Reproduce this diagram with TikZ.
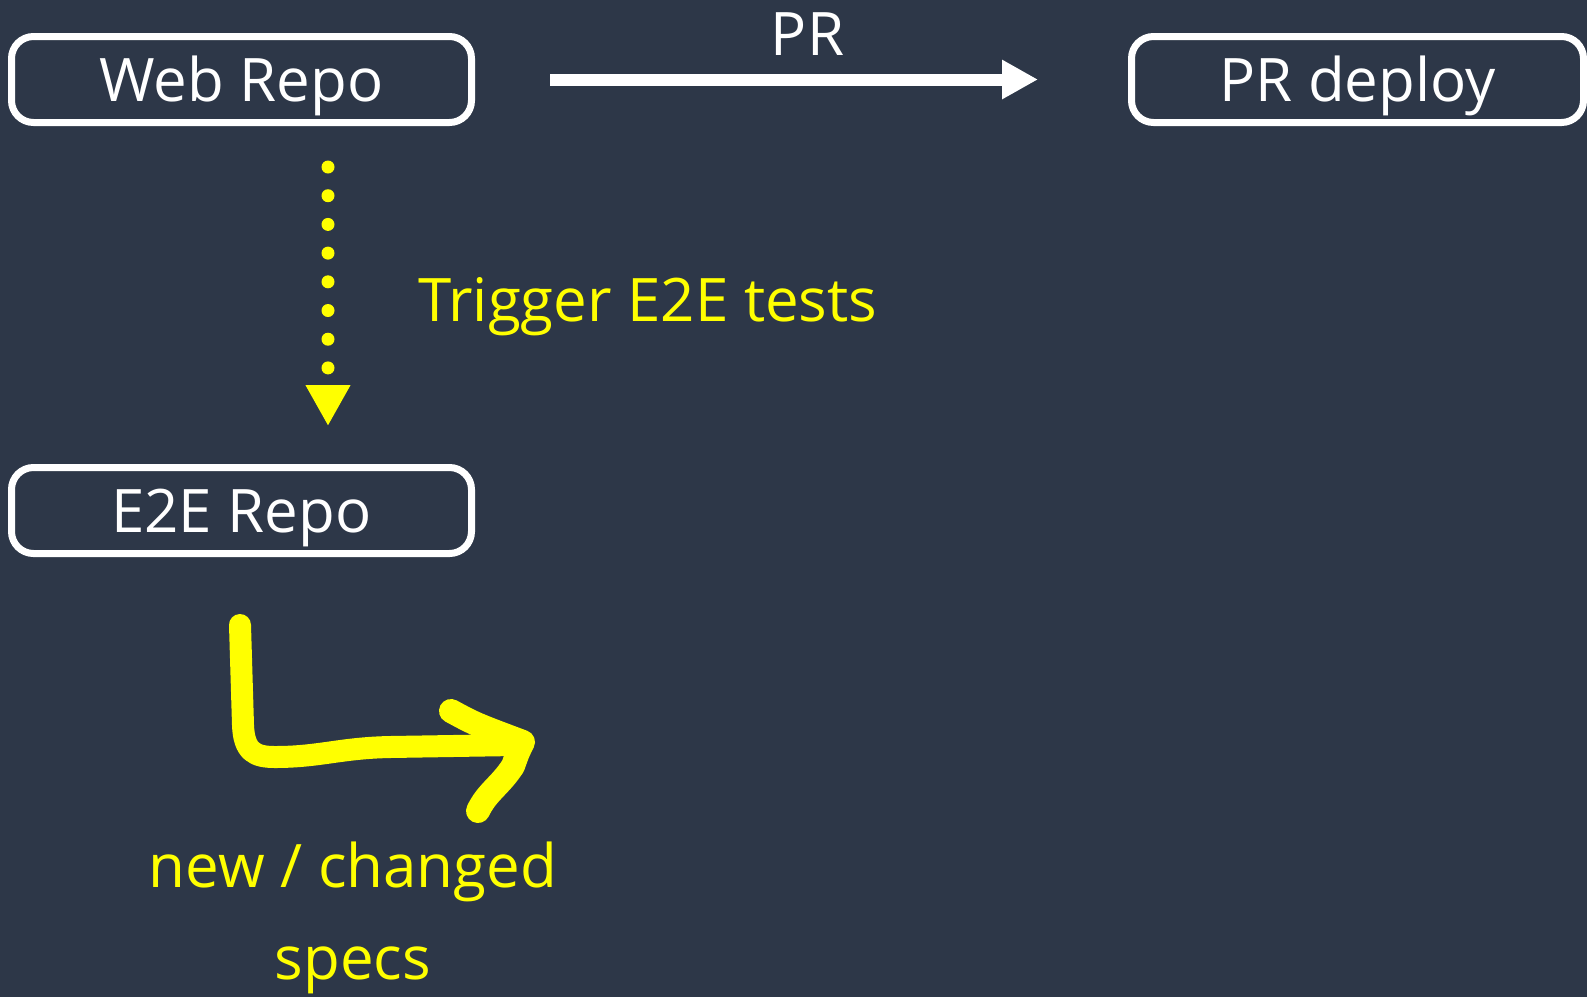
\documentclass[tikz,border=0pt]{standalone}
\usepackage{fontspec}
\setmainfont{Open Sans}
\usetikzlibrary{arrows.meta,positioning,calc}
\definecolor{bgslate}{HTML}{2D3748}
\definecolor{markyellow}{HTML}{FFFF00}

\begin{document}
\begin{tikzpicture}[
    x=1pt, y=-1pt,
    font=\fontsize{60}{92}\selectfont,
    repo/.style={rectangle, draw=white, line width=7pt, rounded corners=22pt, minimum width=460pt, minimum height=86pt, inner sep=0pt, text=white, text height=43pt, text depth=0pt},
    note/.style={text=markyellow, inner sep=0pt},
    dots/.style={markyellow, line width=13pt, line cap=round, dash pattern=on 0pt off 28.7pt, -{Triangle[length=41pt, width=42pt]}},
    marker/.style={markyellow, line width=22pt, line cap=round, line join=round}
]

    % Background
    \fill[bgslate] (0,0) rectangle (1587,997);
    \useasboundingbox (0,0) rectangle (1587,997);

    % Repos
    \node[repo] (web) at (241.5,79.5) {Web Repo};
    \node[repo, minimum width=452pt] (deploy) at (1357.5,79.5) {PR deploy};
    \node[repo] (e2e) at (241.5,510.5) {E2E Repo};

    % PR arrow
    \draw[white, line width=12pt, -{Triangle[length=36pt, width=37pt]}, shorten <=75pt, shorten >=90pt]
        (web.east) -- node[midway, anchor=base, xshift=6pt, yshift=24.5pt, text=white, inner sep=0pt] (pr) {PR} (deploy.west);

    % Trigger (dotted)
    \draw[dots, shorten <=41pt, shorten >=38pt] ([xshift=86.5pt]web.south) -- ([xshift=86.5pt]web.south |- e2e.north);
    \node[note, anchor=base west] (trigger) at (418,321) {Trigger E2E tests};

    % Hand drawn arrow
    \draw[marker] (240,625) -- (243,725) .. controls (244,752) and (255,757) .. (275,757)
        .. controls (320,757) and (340,748) .. (390,747) -- (515,745);
    \draw[marker, line width=24pt] (451,711) .. controls (475,724) .. (523,742)
        .. controls (518,752) .. (513,766) .. controls (500,786) and (487,792) .. (478,811);
    \node[note, align=center, anchor=north] (specs) at (353,842) {new / changed\\specs};

\end{tikzpicture}
\end{document}
